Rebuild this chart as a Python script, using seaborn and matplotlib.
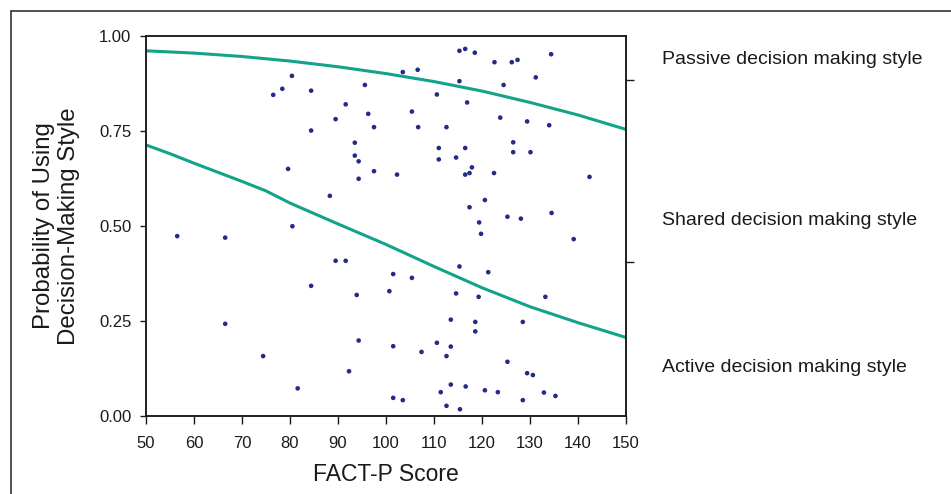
import matplotlib
matplotlib.use("Agg")
import matplotlib.pyplot as plt
import seaborn as sns
from matplotlib.lines import Line2D

# ---------------- data ----------------
fact_p = [80.4, 78.4, 76.5, 84.4, 95.6, 91.6, 96.3, 89.5, 97.5, 84.4, 93.5, 93.5,
          94.3, 97.5, 79.6, 94.3, 88.3,
          115.3, 116.5, 118.5, 122.6, 126.2, 127.4, 134.4, 103.5, 106.6, 115.3, 124.5,
          131.2, 110.6, 116.9, 105.4, 123.8, 129.4, 106.7, 112.6, 134.0, 111.0, 116.5,
          126.5, 126.5, 130.1, 111.0, 114.6, 117.9, 116.5, 117.4, 122.5, 102.3, 142.4,
          120.6, 117.4, 125.3, 128.1, 134.5,
          56.5, 66.5, 80.5, 89.5, 91.6, 84.4, 93.9, 100.7, 66.5, 94.3, 74.4, 92.3, 81.6,
          119.4, 119.8, 139.1, 115.3, 121.3, 101.5, 105.4, 114.6, 119.3, 133.2, 113.5,
          118.6, 128.5, 118.6, 101.5, 110.6, 113.5, 107.4, 112.6, 125.3, 129.4, 130.6,
          113.5, 116.6, 111.4, 120.6, 123.3, 132.9, 135.3, 101.5, 103.5, 128.5, 112.6,
          115.4]
prob = [0.895, 0.861, 0.845, 0.856, 0.871, 0.820, 0.795, 0.781, 0.760, 0.751, 0.719, 0.685,
        0.670, 0.644, 0.650, 0.624, 0.579,
        0.961, 0.966, 0.956, 0.931, 0.931, 0.937, 0.952, 0.905, 0.911, 0.881, 0.871,
        0.891, 0.846, 0.825, 0.801, 0.785, 0.775, 0.760, 0.760, 0.765, 0.705, 0.705,
        0.720, 0.694, 0.694, 0.675, 0.680, 0.654, 0.635, 0.639, 0.639, 0.635, 0.629,
        0.568, 0.549, 0.524, 0.519, 0.534,
        0.473, 0.469, 0.499, 0.408, 0.408, 0.342, 0.318, 0.328, 0.242, 0.198, 0.157, 0.117, 0.072,
        0.509, 0.479, 0.465, 0.393, 0.378, 0.373, 0.363, 0.322, 0.313, 0.313, 0.253,
        0.247, 0.247, 0.222, 0.183, 0.192, 0.182, 0.168, 0.157, 0.142, 0.112, 0.107,
        0.082, 0.077, 0.062, 0.067, 0.062, 0.061, 0.052, 0.047, 0.041, 0.041, 0.026,
        0.017]

upper_x = [50, 60, 70, 80, 90, 100, 110, 120, 130, 140, 150]
upper_p = [0.961, 0.955, 0.946, 0.934, 0.919, 0.901, 0.880, 0.855, 0.825, 0.792, 0.754]

lower_x = [50, 55, 60, 65, 70, 75, 80, 90, 100, 110, 120, 130, 140, 150]
lower_p = [0.713, 0.690, 0.665, 0.641, 0.617, 0.592, 0.560, 0.505, 0.451, 0.393,
           0.337, 0.287, 0.245, 0.206]

x_ticks = [50, 60, 70, 80, 90, 100, 110, 120, 130, 140, 150]
y_ticks = [0.0, 0.25, 0.50, 0.75, 1.00]
y_tick_labels = ["0.00", "0.25", "0.50", "0.75", "1.00"]
right_ticks = [0.884, 0.405]
style_labels = ["Passive decision making style", "Shared decision making style",
                "Active decision making style"]
style_label_y = [0.939, 0.515, 0.126]

# ---------------- styling ----------------
sns.set_theme(style="ticks")
plt.rcParams['font.family'] = ['Liberation Sans', 'DejaVu Sans']

teal = "#12a38a"
navy = "#232c85"
ink = "#1a1a1a"

fig = plt.figure(figsize=(9.51, 4.94), dpi=100)
ax = fig.add_axes([146 / 951, 1 - 415.7 / 494, 480 / 951, 379.7 / 494])

sns.lineplot(x=upper_x, y=upper_p, ax=ax, color=teal, linewidth=2.2)
sns.lineplot(x=lower_x, y=lower_p, ax=ax, color=teal, linewidth=2.2)
sns.scatterplot(x=fact_p, y=prob, ax=ax, color=navy, s=11, edgecolor="none", zorder=3)

ax.set_xlim(50, 150)
ax.set_ylim(0, 1)
ax.set_xticks(x_ticks)
ax.set_yticks(y_ticks)
ax.set_yticklabels(y_tick_labels)
ax.set_xlabel("")
ax.set_ylabel("")
for sp in ax.spines.values():
    sp.set_visible(True)
    sp.set_color(ink)
    sp.set_linewidth(1.1)
ax.tick_params(axis="y", direction="out", length=4.5, width=1, labelsize=12, pad=6,
               colors=ink)
ax.tick_params(axis="x", direction="out", length=5.5, width=1, labelsize=12, pad=9,
               colors=ink)

ax2 = ax.twinx()
ax2.set_ylim(0, 1)
ax2.set_yticks(right_ticks)
ax2.set_yticklabels([])
ax2.tick_params(axis="y", direction="out", length=5.8, width=1, colors=ink)
for sp in ax2.spines.values():
    sp.set_color(ink)
    sp.set_linewidth(1.1)

for lab, yv in zip(style_labels, style_label_y):
    ax.text(157.5, yv, lab, ha="left", va="center", fontsize=14, color=ink,
            clip_on=False)

fig.text(56.5 / 951, 1 - 226 / 494, "Probability of Using\nDecision-Making Style",
         rotation=90, ha="center", va="center", fontsize=17.3, linespacing=1.2,
         color=ink)
fig.text(386 / 951, 1 - 474 / 494, "FACT-P Score", ha="center", va="center",
         fontsize=16.5, color=ink)

# outer frame (top and left edges visible in the reference)
fy = 1 - 11 / 494
fx = 11 / 951
fig.add_artist(Line2D([fx, 1.0], [fy, fy], transform=fig.transFigure, color="#333333",
                      linewidth=1.2))
fig.add_artist(Line2D([fx, fx], [0.0, fy], transform=fig.transFigure, color="#333333",
                      linewidth=1.2))

fig.savefig("out.png", dpi=100)
